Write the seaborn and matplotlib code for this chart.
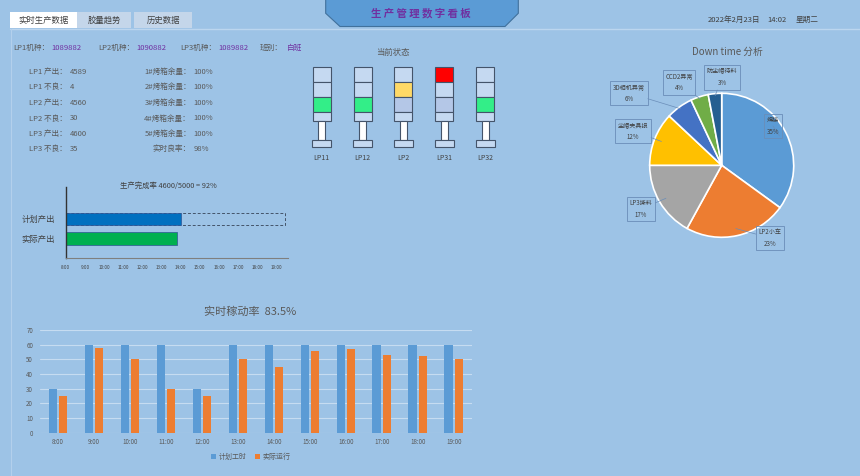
import matplotlib
matplotlib.use('Agg')
import matplotlib.pyplot as plt
import seaborn as sns
import numpy as np
import pandas as pd
from matplotlib.patches import Polygon, Rectangle

sns.set_theme(style='white')
plt.rcParams['font.family'] = ['Noto Sans CJK SC', 'DejaVu Sans']
plt.rcParams['axes.unicode_minus'] = False

# ---------------- data ----------------
tabs = ['实时生产数据', '胶量趋势', '历史数据']
board_title = '生 产 管 理 数 字 看 板'
date_parts = ['2022年2月23日', '14:02', '星期二']
model_labels = ['LP1机种：', 'LP2机种：', 'LP3机种：', '班别：']
model_values = ['1089882', '1090882', '1089882', '白班']
line_labels = ['LP1 产出：', 'LP1 不良：', 'LP2 产出：', 'LP2 不良：', 'LP3 产出：', 'LP3 不良：']
line_values = ['4589', '4', '4560', '30', '4600', '35']
oven_labels = ['1#烤箱余量：', '2#烤箱余量：', '3#烤箱余量：', '4#烤箱余量：', '5#烤箱余量：', '实时良率：']
oven_values = ['100%', '100%', '100%', '100%', '100%', '98%']
status_title = '当前状态'
towers = ['LP11', 'LP12', 'LP2', 'LP31', 'LP32']
tower_state = ['green', 'green', 'yellow', 'red', 'green']
downtime_title = 'Down time 分析'
downtime_labels = ['焊接', 'LP2小车', 'LP3撕料', '尘帽夹具损', '3D相机异常', 'CCD2异常', '防尘帽待料']
downtime_pct = [35, 23, 17, 12, 6, 4, 3]
progress_title = '生产完成率 4600/5000 = 92%'
progress_cats = ['计划产出', '实际产出']
progress_vals = [6.03, 5.83]
progress_target = 11.45
progress_ticks = ['8:00', '9:00', '10:00', '11:00', '12:00', '13:00', '14:00',
                  '15:00', '16:00', '17:00', '18:00', '19:00']
oee_title = '实时稼动率  83.5%'
hours = ['8:00', '9:00', '10:00', '11:00', '12:00', '13:00', '14:00',
         '15:00', '16:00', '17:00', '18:00', '19:00']
planned = [30, 60, 60, 60, 30, 60, 60, 60, 60, 60, 60, 60]
actual = [25, 58, 50, 30, 25, 50, 45, 56, 57, 53, 52, 50]
series_names = ['计划工时', '实际运行']

# ---------------- style / layout ----------------
BG = '#9DC3E6'
GRAY = '#595959'
PURPLE = '#7030A0'
W, H = 860, 476

def fx(x):
    return x / W

def fy(y):
    return 1 - y / H

fig = plt.figure(figsize=(8.6, 4.76), dpi=100, facecolor=BG)

ov = fig.add_axes([0, 0, 1, 1])
ov.set_xlim(0, W)
ov.set_ylim(H, 0)
ov.axis('off')
ov.set_facecolor('none')

# tabs
tab_boxes = [(10, 66.7), (77.3, 53.4), (134.3, 58)]
tab_colors = ['white', '#C4D6EA', '#C4D6EA']
for (x0, w), c, t in zip(tab_boxes, tab_colors, tabs):
    ov.add_patch(Rectangle((x0, 12.3), w, 16, fc=c, ec='none'))
    ov.text(x0 + w / 2, 20.5, t, ha='center', va='center', fontsize=6, color='#404040')

# separator lines
ov.plot([10, W], [29.3, 29.3], color='#BCD6EF', lw=1)
ov.plot([11, 11], [29.3, H], color='#B3D0EC', lw=0.8)

# title board
ov.add_patch(Polygon([(325.7, -1), (325.7, 13.3), (340, 26.5), (505, 26.5), (518.3, 13.3), (518.3, -1)],
                     closed=True, fc='#5B9BD5', ec='#41719C', lw=0.8))
ov.text(421, 13.5, board_title, ha='center', va='center', fontsize=7.5, color=PURPLE,
        fontweight='bold', style='italic')

# date
for t, x in zip(date_parts, [708, 767, 796]):
    ov.text(x, 20, t, ha='left', va='center', fontsize=5.5, color='#404040')

# model line
for lab, val, lx, vx in zip(model_labels, model_values, [13.3, 98.3, 180, 260], [51.7, 136.7, 218.3, 286.7]):
    ov.text(lx, 48.3, lab, ha='left', va='center', fontsize=5.5, color=GRAY)
    ov.text(vx, 48.3, val, ha='left', va='center', fontsize=5.5, color=PURPLE)

row_y = [71.7, 87, 102.7, 118.5, 134, 149.3]
for y, lab, val in zip(row_y, line_labels, line_values):
    ov.text(29.3, y, lab, ha='left', va='center', fontsize=5.5, color=GRAY)
    ov.text(70, y, val, ha='left', va='center', fontsize=5.5, color=GRAY)
for y, lab, val in zip(row_y, oven_labels, oven_values):
    ov.text(191, y, lab, ha='right', va='center', fontsize=5.5, color=GRAY)
    ov.text(193.5, y, val, ha='left', va='center', fontsize=5.5, color=GRAY)

# ---------------- status towers ----------------
ov.text(393, 52, status_title, ha='center', va='center', fontsize=6, color=GRAY)
axt = fig.add_axes([fx(300), fy(150), fx(207), 90 / H])
axt.set_facecolor('none')
unit = (485.2 - 321.7) / 4
light_colors = {'red': '#FF0000', 'yellow': '#FFD966', 'green': '#33EE88'}
OFF = '#C5D9F1'
OFF3 = '#B4C7E7'
segs = [(66.7, 82.3), (82.3, 96.7), (96.7, 111.7), (111.7, 121)]
seg_of = {'red': 0, 'yellow': 1, 'green': 2}
EC = '#44546A'
for i, st in enumerate(tower_state):
    for k, (t0, t1) in enumerate(segs):
        c = OFF
        if k == 2:
            c = OFF3
        if seg_of[st] == k:
            c = light_colors[st]
        axt.bar(i, t1 - t0, bottom=t0, width=18 / unit, color=c, edgecolor=EC, lw=0.8)
    axt.bar(i, 19, bottom=121, width=6.7 / unit, color='white', edgecolor=EC, lw=0.8)
    axt.bar(i, 7.3, bottom=140, width=19 / unit, color=OFF, edgecolor=EC, lw=0.8)
axt.set_xlim(-(321.7 - 300) / unit, 4 + (507 - 485.2) / unit)
axt.set_ylim(150, 60)
axt.set_xticks(range(len(towers)), towers)
axt.set_yticks([])
axt.tick_params(axis='x', length=0, pad=3, labelsize=5, labelcolor='#404040')
for s in axt.spines.values():
    s.set_visible(False)

# ---------------- pie ----------------
cx, cy, R = 721.7, 165.3, 72
ov.text(727, 52, downtime_title, ha='center', va='center', fontsize=7, color=GRAY)
axp = fig.add_axes([fx(cx - R), fy(cy + R), 2 * R / W, 2 * R / H])
pie_colors = ['#5B9BD5', '#ED7D31', '#A5A5A5', '#FFC000', '#4472C4', '#70AD47', '#255E91']
axp.pie(downtime_pct, colors=pie_colors, startangle=90, counterclock=False,
        wedgeprops=dict(edgecolor='white', linewidth=1.2))
axp.set_xlim(-1, 1)
axp.set_ylim(-1, 1)
label_px = [(773, 126), (770, 238), (641, 209), (633, 131), (629, 93), (679, 82.5), (722, 77.5)]
cum = 0
for lab, pct, (px, py) in zip(downtime_labels, downtime_pct, label_px):
    mid = np.deg2rad(90 - (cum + pct / 2) * 3.6)
    cum += pct
    r = 0.9 if pct > 8 else 0.97
    axp.annotate(f'{lab}\n{pct}%', xy=(r * np.cos(mid), r * np.sin(mid)),
                 xytext=((px - cx) / R, -(py - cy) / R), ha='center', va='center',
                 fontsize=4.4, color='#404040', linespacing=1.6, annotation_clip=False,
                 bbox=dict(boxstyle='square,pad=0.4', fc='none', ec='#6A8DB8', lw=0.6),
                 arrowprops=dict(arrowstyle='-', color='#6A8DB8', lw=0.5, shrinkA=0, shrinkB=0))

# ---------------- progress chart ----------------
axg = fig.add_axes([fx(65.7), fy(258), fx(288 - 65.7), (258 - 186.7) / H])
axg.set_facecolor('none')
sns.barplot(x=progress_vals, y=progress_cats, hue=progress_cats, palette=['#0070C0', '#00B050'],
            orient='h', width=0.65, saturation=1, legend=False, ax=axg,
            edgecolor='#2F5597', linewidth=0.5)
axg.barh(0, progress_target, height=0.65, fill=False, ls=(0, (3, 2)), ec='#44546A', lw=0.7, zorder=0)
axg.set_xlim(0, 11.6)
axg.set_ylim(2.02, -1.67)
axg.set_xticks(range(len(progress_ticks)), progress_ticks)
axg.tick_params(axis='x', length=0, pad=5, labelsize=3.3, labelcolor='#404040')
axg.tick_params(axis='y', length=0, pad=7.5, labelsize=6, labelcolor='#404040')
axg.set_xlabel('')
axg.set_ylabel('')
for k in ['top', 'right']:
    axg.spines[k].set_visible(False)
axg.spines['left'].set_color('#333333')
axg.spines['left'].set_linewidth(1)
axg.spines['bottom'].set_color('#7F7F7F')
axg.spines['bottom'].set_linewidth(0.8)
ov.text(168, 186, progress_title, ha='center', va='center', fontsize=5.3, color='#404040')

# ---------------- OEE bar chart ----------------
axb = fig.add_axes([fx(40), fy(432.7), fx(431.7), (432.7 - 330) / H])
axb.set_facecolor('none')
df = pd.DataFrame({'时间': hours * 2, '值': planned + actual,
                   '系列': [series_names[0]] * len(hours) + [series_names[1]] * len(hours)})
sns.barplot(data=df, x='时间', y='值', hue='系列', palette=['#5B9BD5', '#ED7D31'],
            width=0.58, gap=0.22, saturation=1, ax=axb, linewidth=0, edgecolor='none')
axb.set_ylim(0, 70)
axb.set_xlim(-0.5, len(hours) - 0.5)
axb.set_yticks(range(0, 71, 10))
axb.yaxis.grid(True, color='#C6DCF1', lw=0.8)
axb.set_axisbelow(True)
for s in axb.spines.values():
    s.set_visible(False)
axb.set_xlabel('')
axb.set_ylabel('')
axb.tick_params(axis='x', length=0, pad=4, labelsize=4.5, labelcolor=GRAY)
axb.tick_params(axis='y', length=0, pad=5, labelsize=4.5, labelcolor=GRAY)
h, l = axb.get_legend_handles_labels()
axb.legend(h, l, loc='center', bbox_to_anchor=(fx(251), fy(457)), bbox_transform=fig.transFigure,
           ncol=2, frameon=False, fontsize=5, handlelength=0.7, handleheight=0.7,
           columnspacing=1.2, handletextpad=0.4, labelcolor=GRAY)
ov.text(250, 311.5, oee_title, ha='center', va='center', fontsize=8, color=GRAY)

fig.savefig('out.png', dpi=100, facecolor=BG)
